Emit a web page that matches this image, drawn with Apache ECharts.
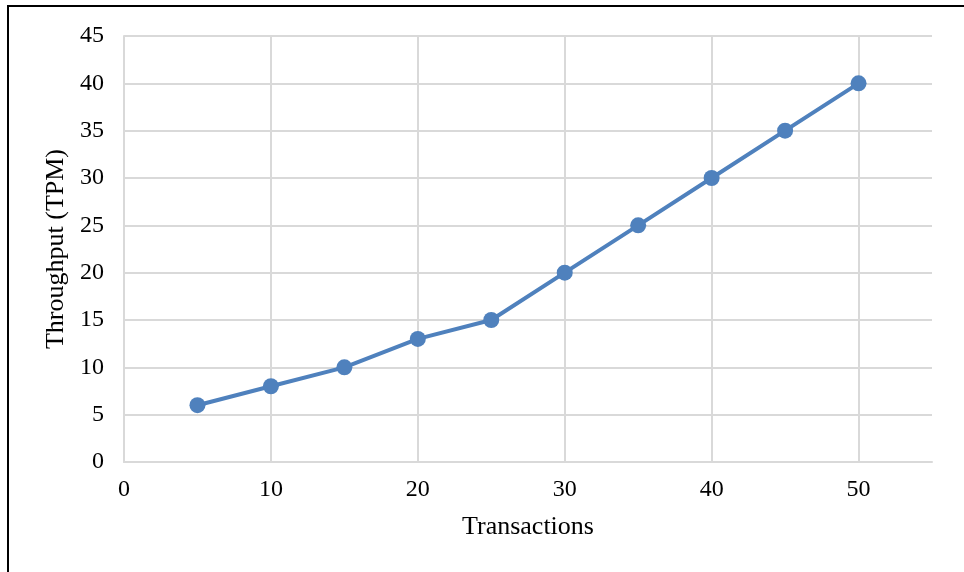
<!DOCTYPE html>
<html>
<head>
<meta charset="utf-8">
<script src="https://cdn.jsdelivr.net/npm/echarts@6/dist/echarts.min.js"></script>
<style>
html,body{margin:0;padding:0;width:964px;height:572px;overflow:hidden;background:#fff;}
#frame{position:absolute;left:7px;top:5px;width:1000px;height:600px;border:2px solid #000;box-sizing:border-box;}
#chart{position:absolute;left:0;top:0;width:964px;height:572px;}
</style>
</head>
<body>
<div id="frame"></div>
<div id="chart"></div>
<script>
var transactions = [5, 10, 15, 20, 25, 30, 35, 40, 45, 50];
var throughput = [6, 8, 10, 13, 15, 20, 25, 30, 35, 40];
var xTitle = 'Transactions';
var yTitle = 'Throughput (TPM)';

var font = '"Liberation Serif", "Times New Roman", serif';
var chart = echarts.init(document.getElementById('chart'));
chart.setOption({
  animation: false,
  backgroundColor: 'transparent',
  grid: {left: 124, right: 32, top: 36, bottom: 110, containLabel: false},
  xAxis: {
    type: 'value', min: 0, max: 55, interval: 10,
    name: xTitle, nameLocation: 'middle', nameGap: 52,
    nameTextStyle: {fontFamily: font, fontSize: 26, color: '#000'},
    axisLine: {show: true, lineStyle: {color: '#d9d9d9', width: 2}},
    axisTick: {show: false},
    axisLabel: {fontFamily: font, fontSize: 24, color: '#000', margin: 16, showMaxLabel: false},
    splitLine: {show: true, showMaxLine: false, lineStyle: {color: '#d9d9d9', width: 2}}
  },
  yAxis: {
    type: 'value', min: 0, max: 45, interval: 5,
    name: yTitle, nameLocation: 'middle', nameGap: 52,
    nameTextStyle: {fontFamily: font, fontSize: 26, color: '#000'},
    axisLine: {show: true, lineStyle: {color: '#d9d9d9', width: 2}},
    axisTick: {show: false},
    axisLabel: {fontFamily: font, fontSize: 24, color: '#000', margin: 20},
    splitLine: {show: true, lineStyle: {color: '#d9d9d9', width: 2}}
  },
  series: [{
    type: 'line',
    data: transactions.map(function (x, i) { return [x, throughput[i]]; }),
    symbol: 'circle', symbolSize: 16,
    lineStyle: {color: '#4f81bd', width: 4},
    itemStyle: {color: '#4f81bd'}
  }]
});
</script>
</body>
</html>
